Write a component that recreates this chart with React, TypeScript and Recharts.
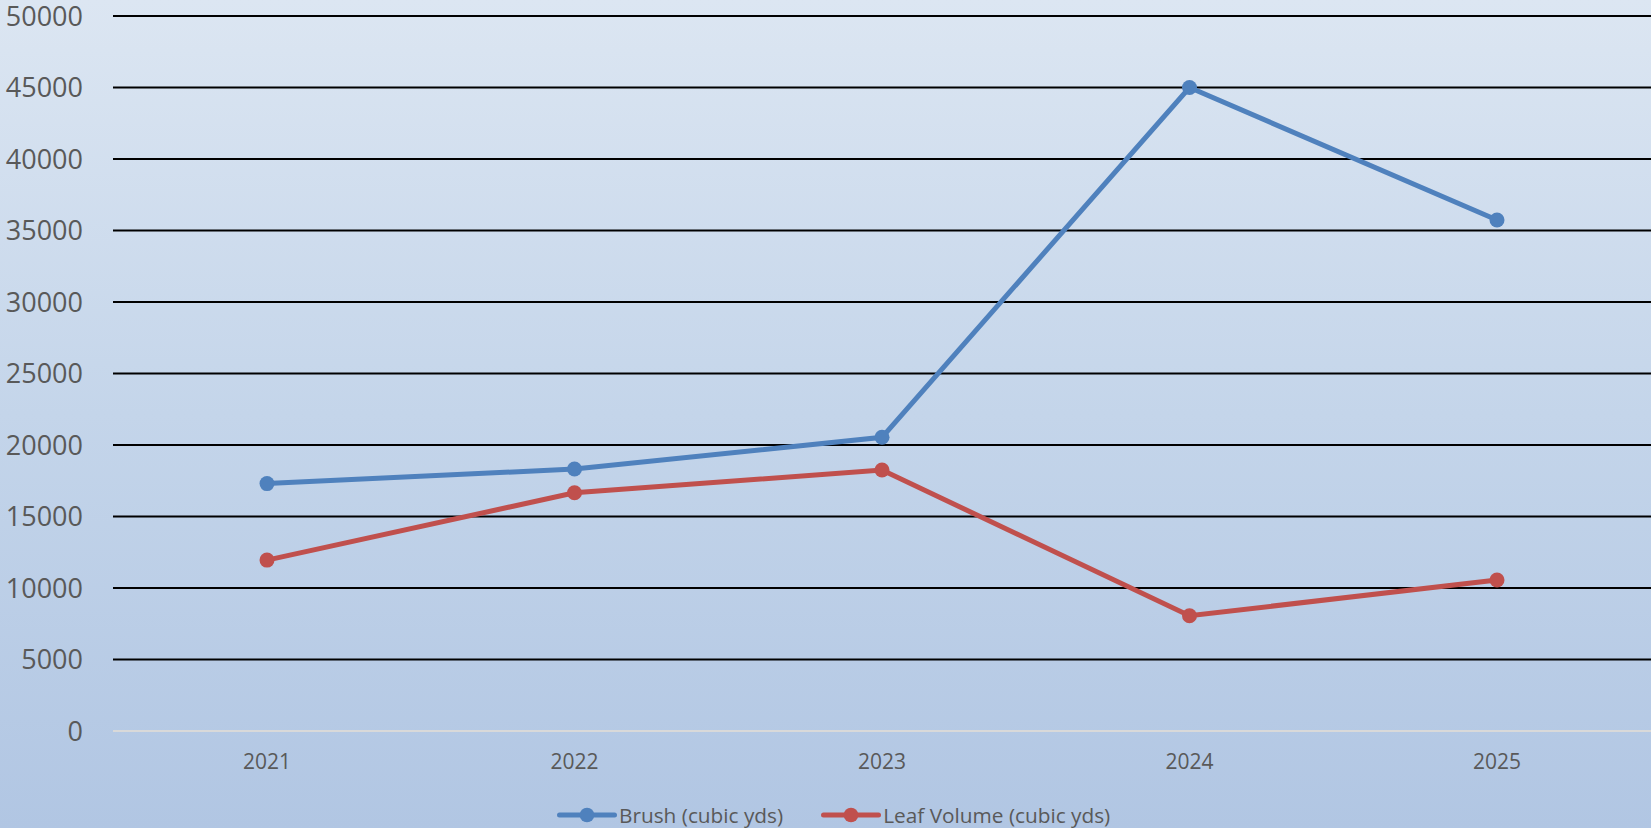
import { LineChart, Line, XAxis, YAxis, CartesianGrid, Legend } from "recharts";

const years = ["2021", "2022", "2023", "2024", "2025"];
const brush = [17300, 18320, 20540, 45000, 35730];
const leafVolume = [11950, 16660, 18250, 8060, 10560];
const yTicks = [0, 5000, 10000, 15000, 20000, 25000, 30000, 35000, 40000, 45000, 50000];

const data = years.map((year, i) => ({
  year,
  brush: brush[i],
  leaf: leafVolume[i],
}));

const FONT = "'Open Sans', 'Liberation Sans', sans-serif";
const TEXT = "#595959";

function LegendContent({ payload }: { payload?: Array<{ value: string; color: string }> }) {
  return (
    <div style={{ display: "flex", alignItems: "center", fontFamily: FONT, fontSize: 20.8, color: TEXT, height: 24 }}>
      {(payload ?? []).map((p, i) => (
        <div key={p.value} style={{ display: "flex", alignItems: "center", marginLeft: i === 0 ? 0 : 38 }}>
          <svg width={60} height={16} style={{ display: "block" }}>
            <line x1={2.5} y1={8} x2={57.5} y2={8} stroke={p.color} strokeWidth={5} strokeLinecap="round" />
            <circle cx={30} cy={8} r={7.3} fill={p.color} />
          </svg>
          <span style={{ marginLeft: 2, lineHeight: "24px", whiteSpace: "nowrap" }}>{p.value}</span>
        </div>
      ))}
    </div>
  );
}

export default function App() {
  return (
    <div
      style={{
        position: "absolute",
        left: 0,
        top: 0,
        width: 1651,
        height: 828,
        background: "linear-gradient(180deg, #DCE6F2 0%, #C4D5EA 50%, #B1C6E3 100%)",
      }}
    >
      <LineChart width={1651} height={828} data={data} margin={{ top: 16, right: 0, left: 0, bottom: 0 }}>
        <CartesianGrid
          vertical={false}
          stroke="#000000"
          strokeWidth={2}
          horizontalValues={yTicks.filter((t) => t > 0)}
        />
        <XAxis
          dataKey="year"
          padding={{ left: 154, right: 154 }}
          axisLine={{ stroke: "#D9D9D9", strokeWidth: 2 }}
          tickLine={false}
          tickSize={0}
          tickMargin={23}
          height={73}
          tick={{ fill: TEXT, fontSize: 21, fontFamily: FONT }}
        />
        <YAxis
          domain={[0, 50000]}
          ticks={yTicks}
          interval={0}
          width={113}
          axisLine={false}
          tickLine={false}
          tickSize={0}
          tickMargin={30}
          tick={{ fill: TEXT, fontSize: 27, fontFamily: FONT }}
        />
        <Legend
          verticalAlign="bottom"
          content={(props: any) => <LegendContent payload={props.payload} />}
          wrapperStyle={{ left: 557, top: 803, width: "auto", bottom: "auto", height: 24 }}
        />
        <Line
          name="Brush (cubic yds)"
          dataKey="brush"
          stroke="#4F81BD"
          strokeWidth={5}
          dot={{ r: 7.5, fill: "#4F81BD", stroke: "none" }}
          activeDot={false}
          isAnimationActive={false}
        />
        <Line
          name="Leaf Volume (cubic yds)"
          dataKey="leaf"
          stroke="#C0504D"
          strokeWidth={5}
          dot={{ r: 7.5, fill: "#C0504D", stroke: "none" }}
          activeDot={false}
          isAnimationActive={false}
        />
      </LineChart>
    </div>
  );
}
